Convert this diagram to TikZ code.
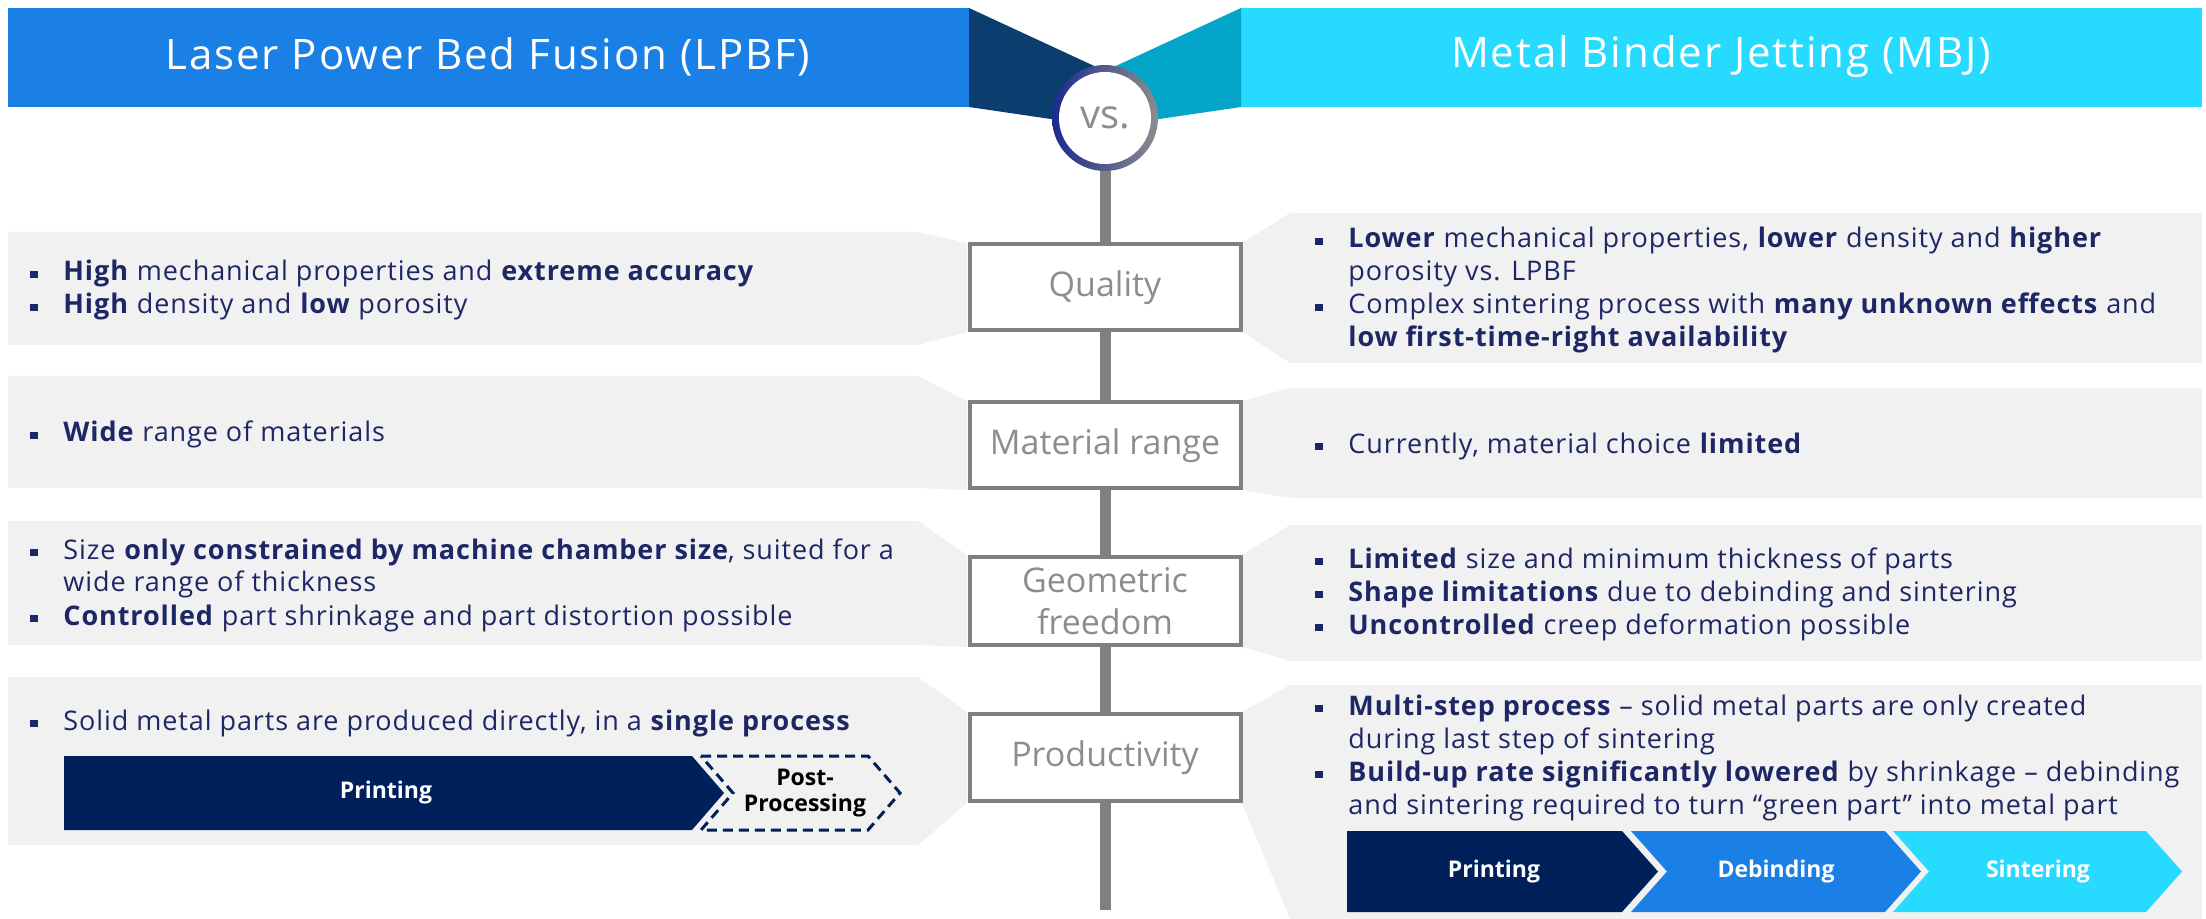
\documentclass[tikz,border=0pt]{standalone}
\usepackage{fontspec}
\setmainfont{Open Sans}
\setsansfont{Open Sans}
\newfontfamily\bodyfont{Open Sans}[LetterSpace=3.4]
\newfontfamily\headfont{Open Sans}[LetterSpace=4.5]
\usetikzlibrary{positioning, calc}
\definecolor{cblue}{HTML}{1A80E5}
\definecolor{ccyan}{HTML}{26DBFF}
\definecolor{cband}{HTML}{0B3D6F}
\definecolor{cteal}{HTML}{03A6C8}
\definecolor{cpanel}{HTML}{F1F1F1}
\definecolor{cgrey}{HTML}{808080}
\definecolor{ctext}{HTML}{1E2765}
\definecolor{cnavy}{HTML}{00205B}
\definecolor{cring}{HTML}{1B2A8C}
\tikzset{
  header/.style={font=\headfont\fontsize{21}{25}\selectfont, text=white},
  topic/.style={draw=cgrey, line width=2pt, fill=white, minimum width=135.5pt,
    minimum height=#1, align=center, text=cgrey!90,
    font=\fontsize{17}{21}\selectfont},
  spine/.style={draw=cgrey, line width=5.5pt},
  panel/.style={fill=cpanel},
  items/.style={inner sep=0pt, text=ctext, font=\bodyfont\fontsize{13.5}{16.5}\selectfont},
  steplabel/.style={text=white, font=\fontsize{11.5}{13}\selectfont\bfseries, align=center},
  vsring/.style={circle, minimum size=53pt, inner sep=0pt, left color=cring,
    right color=cgrey!90, text=cgrey!90, font=\fontsize{20}{22}\selectfont,
    path picture={\fill[white] (path picture bounding box.center) circle (23pt);}},
}
% one bullet point with a hanging indent
\newcommand{\itm}[1]{\par\hangindent=16.5pt\hangafter=1\noindent
  \makebox[16.5pt][l]{\rule[1.6pt]{3.6pt}{3.6pt}}#1\par}
% a block of bullet points, first baseline at the given point
\newcommand{\bulletlist}[3]{
  \node[items, anchor=base west] (#1) at (#2) {\parbox[t]{470pt}{\raggedright #3}};
}

\begin{document}
\begin{tikzpicture}[x=0.5pt, y=-0.5pt]
  \useasboundingbox (0,0) rectangle (2206,919);

  % headers
  \fill[cblue] (8,8) rectangle (969,107);
  \fill[ccyan] (1241,8) rectangle (2202,107);
  \fill[cband] (969,8) -- (1105,71) -- (1105,127) -- (969,107) -- cycle;
  \fill[cteal] (1241,8) -- (1105,71) -- (1105,127) -- (1241,107) -- cycle;
  \node[header] (lpbf) at (488,57) {Laser Power Bed Fusion (LPBF)};
  \node[header] (mbj) at (1721,57) {Metal Binder Jetting (MBJ)};

  % grey panels, left side
  \fill[panel] (8,232) -- (918,232) -- (967,243) -- (967,332) -- (918,345) -- (8,345) -- cycle;
  \fill[panel] (8,376) -- (918,376) -- (967,401) -- (967,490) -- (918,488) -- (8,488) -- cycle;
  \fill[panel] (8,521) -- (918,521) -- (967,555) -- (967,647) -- (918,645) -- (8,645) -- cycle;
  \fill[panel] (8,677) -- (918,677) -- (967,712) -- (967,803) -- (918,845) -- (8,845) -- cycle;
  % grey panels, right side
  \fill[panel] (1242,243) -- (1290,213) -- (2202,213) -- (2202,363) -- (1290,363) -- (1242,332) -- cycle;
  \fill[panel] (1242,401) -- (1290,388) -- (2202,388) -- (2202,498) -- (1290,498) -- (1242,490) -- cycle;
  \fill[panel] (1242,555) -- (1290,525) -- (2202,525) -- (2202,661) -- (1290,661) -- (1242,647) -- cycle;
  \fill[panel] (1242,712) -- (1290,685) -- (2202,685) -- (2202,919) -- (1290,919) -- (1242,803) -- cycle;

  % centre column
  \node[vsring] (vs) at (1105,118) {vs.};
  \node[topic=43pt] (quality) at (1105,287.5) {Quality};
  \node[topic=43pt] (material) at (1105,445.5) {Material range};
  \node[topic=44pt] (geometry) at (1105,601) {Geometric\\freedom};
  \node[topic=43.5pt] (productivity) at (1105,757.5) {Productivity};
  \coordinate (spineend) at (1105,910);
  \draw[spine] (vs) -- (quality);
  \draw[spine] (quality) -- (material);
  \draw[spine] (material) -- (geometry);
  \draw[spine] (geometry) -- (productivity);
  \draw[spine] (productivity) -- (spineend);

  % LPBF
  \bulletlist{lquality}{30,281}{%
    \itm{\textbf{High} mechanical properties and \textbf{extreme accuracy}}
    \itm{\textbf{High} density and \textbf{low} porosity}}
  \bulletlist{lmaterial}{30,442}{%
    \itm{\textbf{Wide} range of materials}}
  \bulletlist{lgeometry}{30,559}{%
    \itm{Size \textbf{only constrained by machine chamber size}, suited for a\newline wide range of thickness}
    \itm{\textbf{Controlled} part shrinkage and part distortion possible}}
  \bulletlist{lproductivity}{30,730}{%
    \itm{Solid metal parts are produced directly, in a \textbf{single process}}}

  % MBJ
  \bulletlist{rquality}{1315,248}{%
    \itm{\textbf{Lower} mechanical properties, \textbf{lower} density and \textbf{higher}\newline porosity vs. LPBF}
    \itm{Complex sintering process with \textbf{many unknown effects} and\newline \textbf{low first-time-right availability}}}
  \bulletlist{rmaterial}{1315,453}{%
    \itm{Currently, material choice \textbf{limited}}}
  \bulletlist{rgeometry}{1315,568}{%
    \itm{\textbf{Limited} size and minimum thickness of parts}
    \itm{\textbf{Shape limitations} due to debinding and sintering}
    \itm{\textbf{Uncontrolled} creep deformation possible}}
  \bulletlist{rproductivity}{1315,715}{%
    \itm{\textbf{Multi-step process} – solid metal parts are only created\newline during last step of sintering}
    \itm{\textbf{Build-up rate significantly lowered} by shrinkage – debinding\newline and sintering required to turn “green part” into metal part}}

  % process steps, LPBF
  \fill[cnavy] (64,756) -- (692,756) -- (724,793) -- (692,830) -- (64,830) -- cycle;
  \draw[cnavy, line width=1.5pt, dash pattern=on 5pt off 3pt]
    (701,756) -- (868,756) -- (900,793) -- (868,830) -- (701,830) -- (733,793) -- cycle;
  \node[steplabel] (lprint) at (386,793) {Printing};
  \node[steplabel, text=black] (lpost) at (805,793) {Post-\\Processing};

  % process steps, MBJ
  \fill[cnavy] (1347,831) -- (1622,831) -- (1658,871.5) -- (1622,912) -- (1347,912) -- cycle;
  \fill[cblue] (1631,831) -- (1885,831) -- (1921,871.5) -- (1885,912) -- (1631,912) -- (1667,871.5) -- cycle;
  \fill[ccyan] (1893,831) -- (2146,831) -- (2182,871.5) -- (2146,912) -- (1893,912) -- (1929,871.5) -- cycle;
  \node[steplabel] (rprint) at (1494,871.5) {Printing};
  \node[steplabel] (rdebind) at (1776,871.5) {Debinding};
  \node[steplabel] (rsinter) at (2038,871.5) {Sintering};
\end{tikzpicture}
\end{document}
